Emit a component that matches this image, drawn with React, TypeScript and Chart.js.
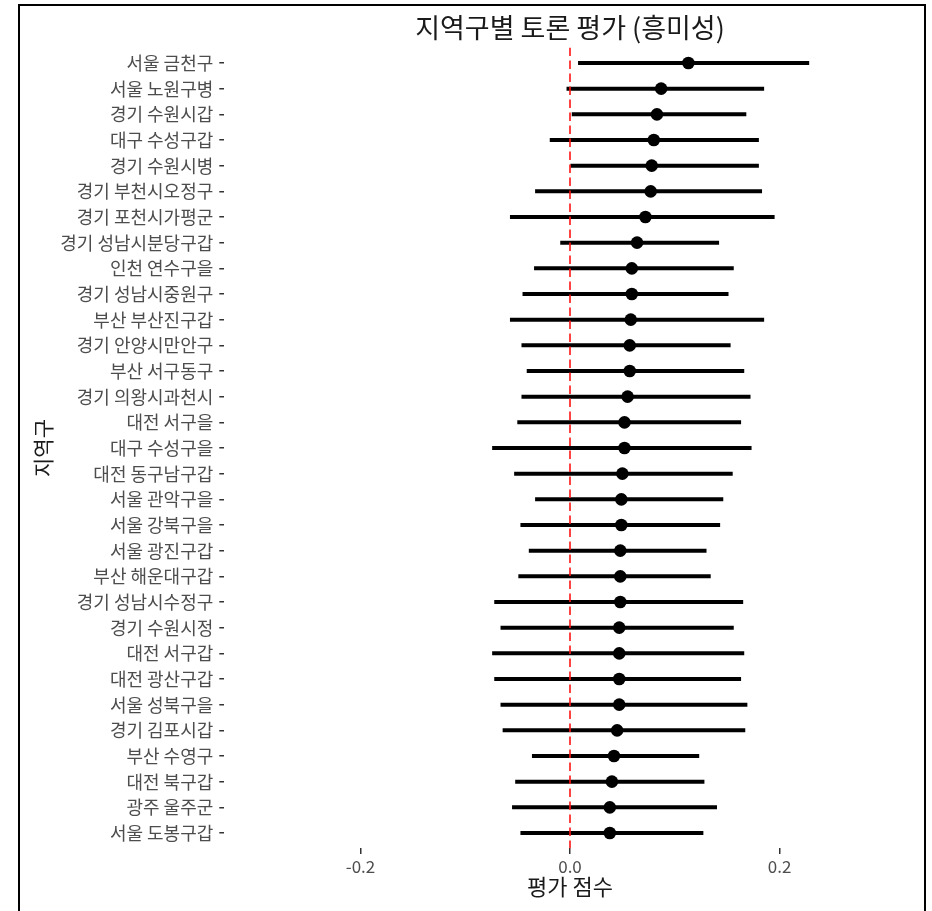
import React, { useEffect, useRef } from "react";
import { Chart, registerables } from "chart.js";

Chart.register(...registerables);

const categories: string[] = [
  "서울 금천구", "서울 노원구병", "경기 수원시갑", "대구 수성구갑", "경기 수원시병",
  "경기 부천시오정구", "경기 포천시가평군", "경기 성남시분당구갑", "인천 연수구을", "경기 성남시중원구",
  "부산 부산진구갑", "경기 안양시만안구", "부산 서구동구", "경기 의왕시과천시", "대전 서구을",
  "대구 수성구을", "대전 동구남구갑", "서울 관악구을", "서울 강북구을", "서울 광진구갑",
  "부산 해운대구갑", "경기 성남시수정구", "경기 수원시정", "대전 서구갑", "대전 광산구갑",
  "서울 성북구을", "경기 김포시갑", "부산 수영구", "대전 북구갑", "광주 울주군", "서울 도봉구갑",
];

const estimates: number[] = [
  0.113, 0.087, 0.083, 0.080, 0.078, 0.077, 0.072, 0.064, 0.059, 0.059,
  0.058, 0.057, 0.057, 0.055, 0.052, 0.052, 0.050, 0.049, 0.049, 0.048,
  0.048, 0.048, 0.047, 0.047, 0.047, 0.047, 0.045, 0.042, 0.040, 0.038, 0.038,
];

const lower: number[] = [
  0.008, -0.003, 0.002, -0.019, 0.000, -0.033, -0.057, -0.009, -0.034, -0.045,
  -0.057, -0.046, -0.041, -0.046, -0.050, -0.074, -0.053, -0.033, -0.047, -0.039,
  -0.049, -0.072, -0.066, -0.074, -0.072, -0.066, -0.064, -0.036, -0.052, -0.055, -0.047,
];

const upper: number[] = [
  0.228, 0.185, 0.168, 0.180, 0.180, 0.183, 0.195, 0.142, 0.156, 0.151,
  0.185, 0.153, 0.166, 0.172, 0.163, 0.173, 0.155, 0.146, 0.143, 0.130,
  0.134, 0.165, 0.156, 0.166, 0.163, 0.169, 0.167, 0.123, 0.128, 0.140, 0.127,
];

const xTickValues: number[] = [-0.2, 0.0, 0.2];
const referenceValue = 0;

const titleText = "지역구별 토론 평가 (흥미성)";
const xTitle = "평가 점수";
const yTitle = "지역구";

const FONT = "'Noto Sans CJK KR', 'Noto Sans', sans-serif";

export default function App() {
  const canvasRef = useRef<HTMLCanvasElement | null>(null);

  useEffect(() => {
    const canvas = canvasRef.current;
    if (!canvas) return;

    const titlePlugin = {
      id: "centerTitle",
      afterDraw(chart: any) {
        const { ctx, chartArea } = chart;
        ctx.save();
        ctx.font = `27px ${FONT}`;
        ctx.fillStyle = "#1a1a1a";
        ctx.textAlign = "center";
        ctx.textBaseline = "middle";
        ctx.fillText(titleText, (chartArea.left + chartArea.right) / 2, 28);
        ctx.restore();
      },
    };

    const chart = new Chart(canvas, {
      type: "bar",
      data: {
        datasets: [
          {
            type: "line",
            data: [
              { x: referenceValue, y: -0.6 },
              { x: referenceValue, y: categories.length - 0.4 },
            ],
            borderColor: "rgba(255,20,20,0.8)",
            borderWidth: 2,
            borderDash: [8.5, 4.5],
            pointRadius: 0,
            order: 0,
          } as any,
          {
            type: "scatter",
            data: estimates.map((v, i) => ({ x: v, y: i })),
            backgroundColor: "#000000",
            borderColor: "#000000",
            pointRadius: 6.3,
            pointBorderWidth: 0,
            order: 1,
          } as any,
          {
            type: "bar",
            data: lower.map((lo, i) => ({ x: [lo, upper[i]], y: i })),
            backgroundColor: "#000000",
            barThickness: 3.4,
            borderWidth: 0,
            order: 2,
          } as any,
        ],
      },
      options: {
        indexAxis: "y",
        responsive: false,
        animation: false,
        layout: { padding: { left: 0, right: 16.3, top: 47.6, bottom: 0 } },
        plugins: {
          legend: { display: false },
          tooltip: { enabled: false },
          title: { display: false },
        },
        scales: {
          x: {
            type: "linear",
            min: -0.33,
            max: 0.33,
            offset: false,
            afterBuildTicks: (scale: any) => {
              scale.ticks = xTickValues.map((v) => ({ value: v }));
            },
            afterFit: (scale: any) => {
              scale.height = 62.6;
            },
            ticks: {
              callback: (v: any) => Number(v).toFixed(1),
              font: { family: FONT, size: 17 },
              color: "#4d4d4d",
              padding: 2,
              maxRotation: 0,
            },
            grid: {
              display: true,
              offset: false,
              drawOnChartArea: false,
              drawTicks: true,
              tickLength: 5.5,
              color: "#333333",
              lineWidth: 1.5,
            },
            border: { display: false },
            title: {
              display: true,
              text: xTitle,
              font: { family: FONT, size: 22 },
              color: "#1a1a1a",
              padding: { top: 0, bottom: 11 },
            },
          },
          y: {
            type: "linear",
            reverse: true,
            offset: false,
            min: -0.6,
            max: categories.length - 0.4,
            afterBuildTicks: (scale: any) => {
              scale.ticks = categories.map((_, i) => ({ value: i }));
            },
            afterFit: (scale: any) => {
              scale.width = 224.3;
            },
            ticks: {
              callback: (v: any) => categories[Math.round(Number(v))] ?? "",
              font: { family: FONT, size: 18 },
              color: "#4d4d4d",
              padding: 6,
              autoSkip: false,
            },
            grid: {
              display: true,
              offset: false,
              drawOnChartArea: false,
              drawTicks: true,
              tickLength: 5,
              color: "#333333",
              lineWidth: 1.5,
            },
            border: { display: false },
            title: {
              display: true,
              text: yTitle,
              font: { family: FONT, size: 21 },
              color: "#1a1a1a",
              padding: { top: 30, bottom: 0 },
            },
          },
        },
      } as any,
      plugins: [titlePlugin],
    });

    return () => {
      chart.destroy();
    };
  }, []);

  return (
    <div
      style={{
        position: "fixed",
        left: 0,
        top: 0,
        width: 932,
        height: 911,
        overflow: "hidden",
        background: "#ffffff",
      }}
    >
      <canvas
        ref={canvasRef}
        width={932}
        height={911}
        style={{ position: "absolute", left: 0, top: 0, width: 932, height: 911 }}
      />
      <div
        style={{
          position: "absolute",
          left: 18,
          top: 4,
          width: 908,
          height: 940,
          border: "2px solid #000",
          boxSizing: "border-box",
          pointerEvents: "none",
        }}
      />
    </div>
  );
}
